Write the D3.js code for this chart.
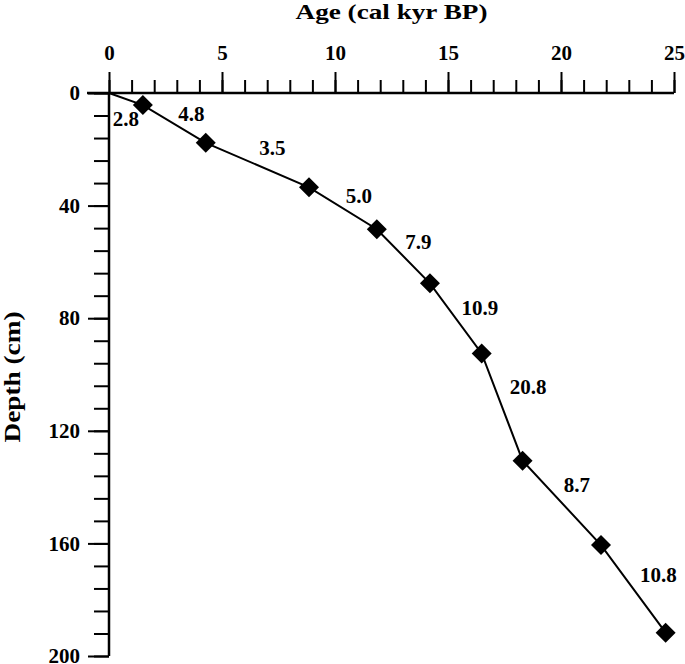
<!DOCTYPE html>
<html>
<head>
<meta charset="utf-8">
<script src="https://cdn.jsdelivr.net/npm/d3@7"></script>
<style>
  body { margin: 0; background: #fff; }
  svg text { font-family: "Liberation Serif", "Times New Roman", serif; font-weight: bold; }
</style>
</head>
<body>
<div id="chart"></div>
<script>
// dated levels (age in cal kyr BP, depth in cm)
const sampleAge = [1.50, 4.28, 8.85, 11.85, 14.2, 16.49, 18.3, 21.77, 24.63];
const sampleDepth = [4.3, 17.7, 33.5, 48.4, 67.6, 92.5, 130.6, 160.6, 191.7];
// sedimentation rate for each segment, surface -> last date
const rateLabels = ["2.8", "4.8", "3.5", "5.0", "7.9", "10.9", "20.8", "8.7", "10.8"];

const xMajorTicks = [0, 5, 10, 15, 20, 25];
const yMajorTicks = [0, 40, 80, 120, 160, 200];

// label nudges off the segment midpoint, in px
const labelShift = [[0, 20], [17, -10], [15, -17], [16, -12], [15, -14], [24, -10], [26, -20], [15, -18], [25, -14]];

const svgWidth = 685;
const svgHeight = 664;
const marginLeft = 109;
const marginTop = 93;
const plotWidth = 565;
const plotHeight = 563;

const svg = d3.select("#chart")
              .append("svg")
              .attr("width", svgWidth)
              .attr("height", svgHeight);

const plot = svg.append("g")
                .attr("transform", `translate(${marginLeft},${marginTop})`);

const scaleX = d3.scaleLinear().domain([0, 25]).range([0, plotWidth]);
const scaleY = d3.scaleLinear().domain([0, 200]).range([0, plotHeight]);

// minor ticks first, majors on top
const xMinor = d3.axisTop(scaleX).tickValues(d3.range(0, 26, 1)).tickSize(13).tickFormat("");
const xMajor = d3.axisTop(scaleX).tickValues(xMajorTicks).tickSize(21).tickPadding(12).tickFormat(d3.format("d"));
const yMinor = d3.axisLeft(scaleY).tickValues(d3.range(0, 201, 8)).tickSize(15).tickFormat("");
const yMajor = d3.axisLeft(scaleY).tickValues(yMajorTicks).tickSize(21).tickPadding(8).tickFormat(d3.format("d"));

[xMinor, xMajor].forEach(ax => {
    plot.append("g").attr("class", "x-axis").call(ax);
});
[yMinor, yMajor].forEach(ax => {
    plot.append("g").attr("class", "y-axis").call(ax);
});

plot.selectAll(".domain").remove();
plot.selectAll(".tick line").attr("stroke", "#000").attr("stroke-width", 2);
plot.selectAll(".tick text").attr("fill", "#000").style("font-size", "21px");

// axis lines (x line runs out past the y axis like the original)
plot.append("line")
    .attr("x1", scaleX(0) - 22).attr("x2", scaleX(25))
    .attr("y1", scaleY(0)).attr("y2", scaleY(0))
    .attr("stroke", "#000").attr("stroke-width", 2.5);
plot.append("line")
    .attr("x1", scaleX(0)).attr("x2", scaleX(0))
    .attr("y1", scaleY(0)).attr("y2", scaleY(200))
    .attr("stroke", "#000").attr("stroke-width", 2.5);

// age-depth line anchored at the surface
const lineAge = [0].concat(sampleAge);
const lineDepth = [0].concat(sampleDepth);
const linePts = lineAge.map((a, i) => [a, lineDepth[i]]);

const line = d3.line()
               .x(d => scaleX(d[0]))
               .y(d => scaleY(d[1]));

plot.append("path")
    .datum(linePts)
    .attr("d", line)
    .attr("fill", "none")
    .attr("stroke", "#000")
    .attr("stroke-width", 2);

const diamond = d3.symbol().type(d3.symbolSquare).size(200);

plot.selectAll(".pt")
    .data(sampleAge)
    .enter()
    .append("path")
    .attr("class", "pt")
    .attr("d", diamond)
    .attr("transform", (d, i) => `translate(${scaleX(d)},${scaleY(sampleDepth[i])}) rotate(45)`)
    .attr("fill", "#000");

plot.selectAll(".rate")
    .data(rateLabels)
    .enter()
    .append("text")
    .attr("class", "rate")
    .attr("x", (d, i) => (scaleX(lineAge[i]) + scaleX(lineAge[i + 1])) / 2 + labelShift[i][0])
    .attr("y", (d, i) => (scaleY(lineDepth[i]) + scaleY(lineDepth[i + 1])) / 2 + labelShift[i][1])
    .attr("text-anchor", "middle")
    .attr("dominant-baseline", "central")
    .style("font-size", "21px")
    .text(d => d);

// titles
svg.append("text")
    .attr("x", marginLeft + plotWidth / 2)
    .attr("y", 19)
    .attr("text-anchor", "middle")
    .attr("textLength", 192)
    .attr("lengthAdjust", "spacingAndGlyphs")
    .style("font-size", "22px")
    .text("Age (cal kyr BP)");

svg.append("text")
    .attr("transform", "translate(20,377) rotate(-90)")
    .attr("text-anchor", "middle")
    .attr("textLength", 131)
    .attr("lengthAdjust", "spacingAndGlyphs")
    .style("font-size", "23px")
    .text("Depth (cm)");
</script>
</body>
</html>
